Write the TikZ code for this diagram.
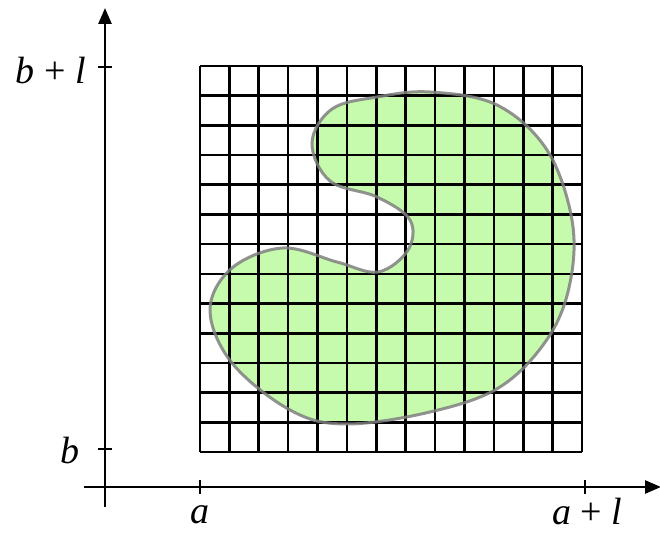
\documentclass[tikz,border=0pt]{standalone}
\usepackage{fontspec}
\setmainfont{Liberation Serif}
\usetikzlibrary{arrows.meta}
\definecolor{blobfill}{RGB}{198,251,174}
\begin{document}
\begin{tikzpicture}[x=0.5pt,y=-0.5pt,
  axis/.style={line width=1.3pt,-{Triangle[length=8pt,width=6.5pt]}},
  tick/.style={line width=1.3pt},
  gridline/.style={line width=1.3pt,black},
  blob/.style={fill=blobfill},
  bloboutline/.style={draw=gray,line width=1.5pt,draw opacity=0.85},
  lab/.style={inner sep=0pt,font=\fontsize{19}{22}\selectfont}]
\useasboundingbox (0,0) rectangle (660,533);
% blob
\def\blobpath{plot[smooth cycle,tension=0.6] coordinates {
 (430,92) (497,105) (547,150) (572,220) (570,283) (548,338) (500,387)
 (430,412) (345,424) (290,410) (232,363) (210,310) (232,268) (283,248)
 (337,262) (378,272) (408,250) (410,220) (377,197) (330,181) (312,143)
 (332,109) (377,97)}}
\fill[blob] \blobpath;
% grid
\foreach \i in {0,...,13}{
  \draw[gridline] ({200+\i*382/13},66) -- ({200+\i*382/13},452);
  \draw[gridline] (200,{66+\i*386/13}) -- (582,{66+\i*386/13});
}
\draw[bloboutline] \blobpath;
% axes
\coordinate (ybot) at (105,507);
\coordinate (ytop) at (105,8);
\coordinate (xleft) at (84,487);
\coordinate (xright) at (661,487);
\draw[axis] (ybot) -- (ytop);
\draw[axis] (xleft) -- (xright);
% ticks
\draw[tick] (98,67) -- (112,67);
\draw[tick] (98,449) -- (112,449);
\draw[tick] (200,480) -- (200,494);
\draw[tick] (585,480) -- (585,494);
% labels
\node[lab,anchor=east] (lbl) at (86,71) {\textit{b} + \textit{l}};
\node[lab,anchor=east] (lb) at (80,451) {\textit{b}};
\node[lab] (la) at (200,515) {\textit{a}};
\node[lab] (lal) at (587,512) {\textit{a} + \textit{l}};
\end{tikzpicture}
\end{document}
